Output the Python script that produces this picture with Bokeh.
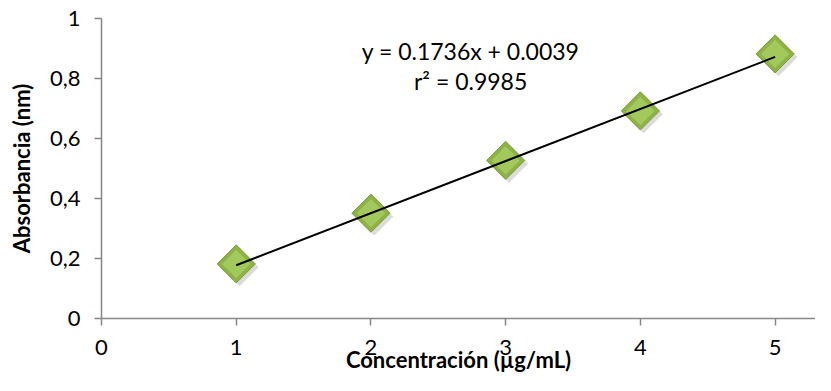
from bokeh.plotting import figure
from bokeh.models import Label, Range1d, FixedTicker, CustomJSTickFormatter
from bokeh.embed import file_html
from bokeh.resources import INLINE
import numpy as np

# data
concentracion = [1, 2, 3, 4, 5]
absorbancia = [0.182, 0.351, 0.527, 0.692, 0.882]
slope = 0.1736
intercept = 0.0039
eq_text = "y = 0.1736x + 0.0039"
r2_text = "r² = 0.9985"
x_title = "Concentración (µg/mL)"
y_title = "Absorbancia (nm)"
x_ticks = [0, 1, 2, 3, 4, 5]
y_ticks = [0, 0.2, 0.4, 0.6, 0.8, 1]

FONT = "Lato"

p = figure(width=815, height=375, output_backend="svg", toolbar_location=None,
           x_range=Range1d(0, 5.30), y_range=Range1d(0, 1),
           min_border_left=101, min_border_right=0, min_border_top=18, min_border_bottom=50)
p.outline_line_color = None
p.grid.visible = False
p.background_fill_color = "white"
p.border_fill_color = "white"

xs = np.array(concentracion, dtype=float)
ys = np.array(absorbancia, dtype=float)

# shadow, marker body, bevel highlight
p.scatter(xs + 0.025, ys - 0.011, marker="square", angle=np.pi / 4, size=27,
          fill_color="#7f7f7f", fill_alpha=0.28, line_color=None)
p.scatter(xs, ys, marker="square", angle=np.pi / 4, size=27,
          fill_color="#8DB245", line_color="#78A034", line_width=1)
p.scatter(xs, ys, marker="square", angle=np.pi / 4, size=20,
          fill_color="#A3C95C", line_color=None)

# trend line
tx = np.array([concentracion[0], concentracion[-1]], dtype=float)
p.line(tx, slope * tx + intercept, line_color="black", line_width=2)

for ax in (p.xaxis[0], p.yaxis[0]):
    ax.axis_line_color = "#868686"
    ax.axis_line_width = 1.5
    ax.major_tick_line_color = "#868686"
    ax.major_tick_line_width = 1.5
    ax.minor_tick_line_color = None
    ax.major_tick_in = 0
    ax.major_tick_out = 7
    ax.major_label_text_font = FONT
    ax.major_label_text_font_size = "22px"
    ax.major_label_text_color = "black"
    ax.axis_label_text_font = FONT
    ax.axis_label_text_font_size = "22px"
    ax.axis_label_text_font_style = "bold"
    ax.axis_label_text_color = "black"

p.xaxis.ticker = FixedTicker(ticks=x_ticks)
p.yaxis.ticker = FixedTicker(ticks=y_ticks)
p.yaxis.formatter = CustomJSTickFormatter(code="return String(tick).replace('.', ',');")
p.xaxis.major_label_standoff = 14
p.yaxis.major_label_standoff = 14
p.xaxis.axis_label = x_title
p.xaxis.axis_label_standoff = -12
p.yaxis.axis_label = y_title
p.yaxis.axis_label_standoff = 12

p.add_layout(Label(x=2.74, y=0.892, text=eq_text, text_font=FONT, text_font_size="23px",
                   text_align="center", text_baseline="middle", text_color="black"))
p.add_layout(Label(x=2.74, y=0.792, text=r2_text, text_font=FONT, text_font_size="23px",
                   text_align="center", text_baseline="middle", text_color="black"))

open("out.html", "w").write(file_html(p, INLINE))
